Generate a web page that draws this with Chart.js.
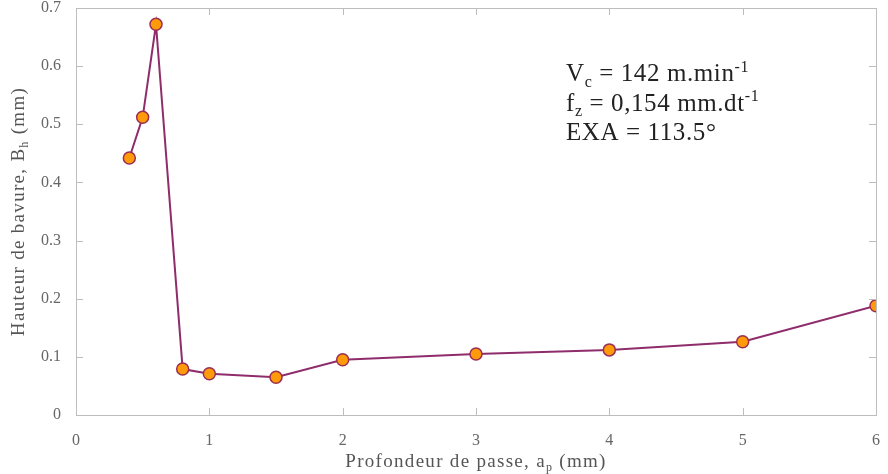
<!DOCTYPE html>
<html lang="fr">
<head>
<meta charset="UTF-8">
<title>Hauteur de bavure vs profondeur de passe</title>
<script src="https://cdn.jsdelivr.net/npm/chart.js"></script>
<style>
    body { margin: 0; background: #fff; }
    #chart { display: block; }
</style>
</head>
<body>
<canvas id="chart" width="888" height="474"></canvas>
<script>
// data
const depth = [0.4, 0.5, 0.6, 0.8, 1.0, 1.5, 2.0, 3.0, 4.0, 5.0, 6.0];
const burrHeight = [0.442, 0.512, 0.672, 0.079, 0.071, 0.065, 0.095, 0.105, 0.112, 0.126, 0.188];
const xTicks = [0, 1, 2, 3, 4, 5, 6];
const yTicks = [0, 0.1, 0.2, 0.3, 0.4, 0.5, 0.6, 0.7];

const SERIF = '"Liberation Serif", "DejaVu Serif", serif';
const axisGray = '#bdbdbd';

// box + inward ticks + titles with subscripts + annotation
const decor = {
    id: 'decor',
    afterDraw(chart) {
        const ctx = chart.ctx;
        const a = chart.chartArea;
        const xs = chart.scales.x, ys = chart.scales.y;
        ctx.save();
        ctx.strokeStyle = axisGray;
        ctx.lineWidth = 1;
        ctx.strokeRect(a.left + 0.5, a.top + 0.5, a.right - a.left, a.bottom - a.top);
        ctx.beginPath();
        xTicks.forEach(v => {
            const px = Math.round(xs.getPixelForValue(v)) + 0.5;
            ctx.moveTo(px, a.bottom); ctx.lineTo(px, a.bottom - 7);
            ctx.moveTo(px, a.top); ctx.lineTo(px, a.top + 7);
        });
        yTicks.forEach(v => {
            const py = Math.round(ys.getPixelForValue(v)) + 0.5;
            ctx.moveTo(a.left, py); ctx.lineTo(a.left + 7, py);
            ctx.moveTo(a.right, py); ctx.lineTo(a.right - 7, py);
        });
        ctx.stroke();

        // text with sub/superscript pieces, centred on x
        function subText(parts, x, y, size, color, spacing) {
            ctx.fillStyle = color;
            ctx.textBaseline = 'alphabetic';
            ctx.textAlign = 'left';
            ctx.letterSpacing = (spacing || 0) + 'px';
            const big = size + 'px ' + SERIF, small = Math.round(size * 0.62) + 'px ' + SERIF;
            let w = 0;
            parts.forEach(p => { ctx.font = p.sub || p.sup ? small : big; w += ctx.measureText(p.t).width; });
            let cx = x - w / 2;
            parts.forEach(p => {
                ctx.font = p.sub || p.sup ? small : big;
                const dy = p.sub ? size * 0.22 : (p.sup ? -size * 0.38 : 0);
                ctx.fillText(p.t, cx, y + dy);
                cx += ctx.measureText(p.t).width;
            });
            ctx.letterSpacing = '0px';
            return w;
        }

        // x title
        subText([{t: 'Profondeur de passe, a'}, {t: 'p', sub: true}, {t: ' (mm)'}], (a.left + a.right) / 2, 467, 19, '#555', 1.3);

        // y title
        ctx.save();
        ctx.translate(24, (a.top + a.bottom) / 2);
        ctx.rotate(-Math.PI / 2);
        subText([{t: 'Hauteur de bavure, B'}, {t: 'h', sub: true}, {t: ' (mm)'}], 0, 0, 19, '#555', 1.3);
        ctx.restore();

        // annotation, left aligned at 566
        const lines = [
            [{t: 'V'}, {t: 'c', sub: true}, {t: ' = 142 m.min'}, {t: '-1', sup: true}],
            [{t: 'f'}, {t: 'z', sub: true}, {t: ' = 0,154 mm.dt'}, {t: '-1', sup: true}],
            [{t: 'EXA = 113.5°'}]
        ];
        lines.forEach((parts, i) => {
            ctx.letterSpacing = '0.6px';
            let w = 0;
            parts.forEach(p => { ctx.font = (p.sub || p.sup ? Math.round(25 * 0.62) : 25) + 'px ' + SERIF; w += ctx.measureText(p.t).width; });
            subText(parts, 566 + w / 2, 81 + i * 29.5, 25, '#222', 0.6);
        });
        ctx.restore();
    }
};

new Chart(document.getElementById('chart'), {
    type: 'scatter',
    data: {
        datasets: [{
            data: depth.map((d, i) => ({x: d, y: burrHeight[i]})),
            showLine: true,
            borderColor: '#8e2c6c',
            borderWidth: 2,
            pointBackgroundColor: '#ff9a0a',
            pointBorderColor: '#9a2f52',
            pointBorderWidth: 1.5,
            pointRadius: 6
        }]
    },
    options: {
        responsive: false,
        animation: false,
        layout: { padding: { left: 0, right: 12, top: 8, bottom: 0 } },
        plugins: { legend: { display: false }, tooltip: { enabled: false } },
        scales: {
            x: {
                type: 'linear', min: 0, max: 6,
                afterBuildTicks: s => { s.ticks = xTicks.map(v => ({value: v})); },
                afterFit: s => { s.height = 59; },
                grid: { display: false },
                border: { display: false },
                ticks: { padding: 8, color: '#666', font: { family: SERIF, size: 16 } }
            },
            y: {
                type: 'linear', min: 0, max: 0.7,
                afterBuildTicks: s => { s.ticks = yTicks.map(v => ({value: v})); },
                afterFit: s => { s.width = 76; s.paddingTop = 0; s.paddingBottom = 0; },
                grid: { display: false },
                border: { display: false },
                ticks: { padding: 7, color: '#666', font: { family: SERIF, size: 16 },
                         callback: v => String(Math.round(v * 10) / 10) }
            }
        }
    },
    plugins: [decor]
});
</script>
</body>
</html>
